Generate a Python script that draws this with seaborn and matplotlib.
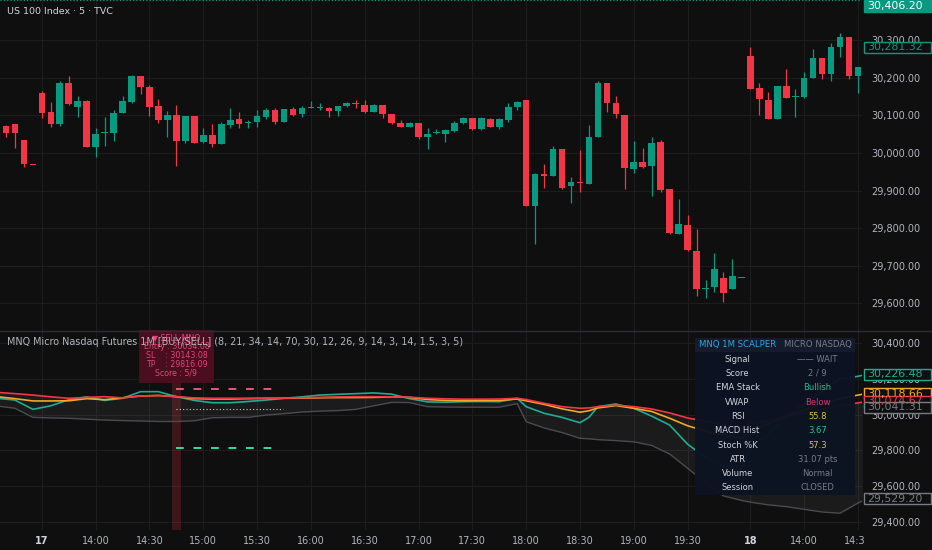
import numpy as np
import pandas as pd
import seaborn as sns
import matplotlib.pyplot as plt
from matplotlib.patches import Rectangle
from matplotlib.lines import Line2D
from matplotlib.ticker import FuncFormatter
from matplotlib.transforms import blended_transform_factory

# ---- 5 min candles, bar 4 = 17th 13:30 ----
bars = list(range(-1, 97))
opens = [30056.8, 30071.9, 30076.3, 30034.6, 29968.0, 30160.6, 30108.3, 30077.2, 30185.5, 30123.4,
         30138.4, 30016.9, 30052.4, 30052.4, 30107.4, 30136.7, 30205.9, 30176.6, 30126.0, 30087.9,
         30101.2, 30032.0, 30098.5, 30029.3, 30048.0, 30024.0, 30074.6, 30089.7, 30079.0, 30083.4,
         30096.8, 30114.5, 30083.4, 30117.2, 30103.0, 30118.9, 30119.8, 30120.7, 30112.7, 30125.2,
         30132.2, 30127.8, 30110.1, 30127.8, 30103.0, 30079.0, 30070.1, 30080.8, 30043.5, 30052.4,
         30050.6, 30059.5, 30079.0, 30092.3, 30063.9, 30090.5, 30070.1, 30087.8, 30121.5, 30141.1,
         29859.8, 29943.2, 29939.7, 30009.7, 29912.1, 29923.7, 29917.5, 30043.5, 30185.4, 30134.0,
         30101.1, 29957.4, 29975.1, 29966.3, 30028.4, 29903.3, 29784.4, 29808.3, 29739.1, 29638.0,
         29642.4, 29666.4, 29637.1, 29666.4, 30258.2, 30172.1, 30141.1, 30089.6, 30178.3, 30148.2,
         30149.9, 30200.5, 30252.0, 30209.4, 30281.3, 30307.9, 30205.8, 30228.0]
highs = [30074.6, 30074.6, 30076.3, 30034.6, 29968.5, 30165.1, 30136.7, 30192.6, 30205.0, 30151.8,
         30141.1, 30065.7, 30096.8, 30114.5, 30151.8, 30207.7, 30205.9, 30181.0, 30142.9, 30112.7,
         30127.8, 30099.4, 30098.5, 30065.7, 30076.3, 30083.4, 30118.9, 30110.1, 30087.9, 30114.5,
         30118.9, 30118.9, 30116.3, 30123.4, 30125.2, 30138.4, 30132.2, 30123.4, 30125.2, 30134.9,
         30141.1, 30141.1, 30130.5, 30127.8, 30103.0, 30087.9, 30083.4, 30080.8, 30065.7, 30063.0,
         30063.9, 30086.1, 30094.9, 30092.3, 30094.9, 30092.3, 30092.3, 30132.2, 30139.3, 30141.1,
         29947.6, 29970.7, 30018.6, 30009.7, 29937.0, 30008.0, 30074.5, 30192.5, 30187.2, 30151.7,
         30101.1, 30031.9, 30012.4, 30043.5, 30034.6, 29903.3, 29877.5, 29835.0, 29796.8, 29661.9,
         29732.9, 29682.3, 29717.8, 29668.1, 30283.0, 30187.2, 30163.2, 30179.2, 30222.7, 30169.5,
         30214.7, 30275.9, 30252.0, 30293.7, 30318.5, 30307.9, 30228.0, 30283.0]
lows = [30039.0, 30041.8, 30012.4, 29961.9, 29967.0, 30092.3, 30070.1, 30071.9, 30127.8, 30096.8,
        30015.1, 29990.3, 30018.7, 30032.0, 30105.6, 30132.2, 30157.1, 30098.5, 30079.0, 30043.5,
        29965.4, 30027.5, 30025.8, 30025.8, 30015.1, 30024.0, 30067.5, 30067.5, 30067.5, 30070.1,
        30089.7, 30077.2, 30083.4, 30099.4, 30096.8, 30118.9, 30114.5, 30096.8, 30099.4, 30123.4,
        30118.9, 30105.6, 30108.3, 30092.3, 30076.3, 30068.4, 30068.4, 30036.4, 30010.7, 30050.6,
        30028.4, 30056.8, 30077.2, 30061.2, 30061.2, 30070.1, 30063.9, 30083.4, 30114.5, 29859.8,
        29757.8, 29907.7, 29939.7, 29903.3, 29866.0, 29897.1, 29917.5, 30043.5, 30110.0, 30092.3,
        29903.3, 29947.6, 29961.0, 29886.4, 29897.1, 29784.4, 29784.4, 29740.0, 29620.2, 29614.9,
        29629.1, 29602.5, 29637.1, 29666.4, 30169.5, 30101.1, 30089.6, 30089.6, 30147.3, 30096.7,
        30145.5, 30198.7, 30197.0, 30192.5, 30256.4, 30196.1, 30158.8, 30225.0]
closes = [30070.1, 30052.4, 30054.2, 29970.8, 29967.2, 30107.4, 30077.2, 30187.2, 30129.6, 30139.3,
          30015.1, 30049.7, 30056.8, 30107.4, 30138.4, 30205.9, 30176.6, 30123.4, 30087.9, 30101.2,
          30032.0, 30099.4, 30027.5, 30048.0, 30024.0, 30076.3, 30087.9, 30076.3, 30083.4, 30098.5,
          30114.5, 30083.4, 30116.3, 30101.2, 30118.9, 30121.6, 30121.6, 30111.8, 30125.2, 30132.2,
          30129.6, 30110.1, 30127.8, 30103.0, 30079.0, 30068.4, 30079.0, 30043.5, 30050.6, 30054.2,
          30061.3, 30080.8, 30092.3, 30063.9, 30092.3, 30070.1, 30089.6, 30121.5, 30136.6, 29859.8,
          29943.2, 29939.7, 30010.6, 29907.7, 29923.7, 29919.2, 30043.5, 30185.4, 30134.0, 30103.8,
          29961.0, 29975.1, 29963.6, 30027.5, 29901.5, 29786.1, 29810.1, 29741.8, 29637.1, 29641.5,
          29691.2, 29626.4, 29673.5, 29668.1, 30169.5, 30142.8, 30089.6, 30179.2, 30147.3, 30151.7,
          30200.5, 30252.0, 30210.3, 30281.3, 30307.9, 30205.0, 30228.0, 30281.3]

time_tick_bars = [4, 10, 16, 22, 28, 34, 40, 46, 52, 58, 64, 70, 76, 83, 89, 95]
time_tick_labels = ['17', '14:00', '14:30', '15:00', '15:30', '16:00', '16:30', '17:00', '17:30',
                    '18:00', '18:30', '19:00', '19:30', '18', '14:00', '14:30']

# ---- indicator pane ----
ind_bars = [-1, 1, 3, 5, 7, 9, 11, 13, 15, 17, 19, 21, 23, 25, 27, 29, 31, 33, 35, 37, 39, 41, 43, 45,
            47, 49, 51, 53, 55, 57, 58, 60, 62, 64, 65, 66, 68, 70, 72, 74, 76, 78, 80, 82,
            83, 85, 87, 89, 91, 93, 95, 96]
ema_fast = [30092, 30082, 30030, 30050, 30084, 30100, 30080, 30092, 30129, 30129, 30101, 30080, 30067,
            30067, 30074, 30082, 30092, 30100, 30110, 30114, 30118, 30122, 30115, 30090, 30072, 30070,
            30073, 30074, 30073, 30092, 30045, 30008, 29985, 29955, 29985, 30045, 30060, 30036, 29992,
            29942, 29835, 29760, 29710, 29690, 29810, 29890, 29990, 30060, 30130, 30200, 30215, 30226.48]
ema_mid = [30101, 30090, 30077, 30077, 30078, 30090, 30084, 30095, 30105, 30108, 30101, 30090, 30088,
           30088, 30090, 30092, 30092, 30093, 30095, 30096, 30096, 30097, 30100, 30097, 30085, 30080,
           30078, 30079, 30080, 30088, 30078, 30058, 30033, 30014, 30022, 30038, 30051, 30036, 30018,
           29980, 29938, 29908, 29884, 29868, 29905, 29950, 29990, 30025, 30060, 30090, 30110, 30118.66]
ema_slow = [30125, 30118, 30110, 30100, 30092, 30097, 30101, 30094, 30105, 30107, 30101, 30094, 30092,
            30092, 30092, 30092, 30093, 30095, 30097, 30100, 30101, 30101, 30100, 30098, 30092, 30089,
            30087, 30087, 30088, 30092, 30085, 30064, 30045, 30036, 30038, 30045, 30054, 30045, 30032,
            30010, 29982, 29962, 29945, 29930, 29950, 29968, 29990, 30008, 30030, 30052, 30066, 30074.67]
band_low = [30049, 30036, 29985, 29982, 29980, 29975, 29970, 29967, 29965, 29962, 29962, 29966, 29983,
            29985, 29985, 29998, 30006, 30015, 30020, 30023, 30030, 30050, 30069, 30068, 30045, 30043,
            30042, 30042, 30042, 30062, 29961, 29926, 29900, 29868, 29865, 29860, 29855, 29848, 29828,
            29780, 29700, 29620, 29545, 29520, 29510, 29495, 29485, 29470, 29455, 29448, 29505, 29529.2]
vwap_last = 30041.31
last_price = 30406.20
close_price = 30281.32

signal_bar = 19
entry_price = 30034.08
stop_price = 30143.08
target_price = 29816.09
signal_score = '5/9'

table_labels = ['Signal', 'Score', 'EMA Stack', 'VWAP', 'RSI', 'MACD Hist', 'Stoch %K', 'ATR', 'Volume', 'Session']
table_values = ['—— WAIT', '2 / 9', 'Bullish', 'Below', '55.8', '3.67', '57.3', '31.07 pts', 'Normal', 'CLOSED']

indicator_title = ('MNQ Micro Nasdaq Futures 1M [BUY/SELL] '
                   '(8, 21, 34, 14, 70, 30, 12, 26, 9, 14, 3, 14, 1.5, 3, 5)')

BG = '#0f0f0f'
GRID = '#1d1d20'
TEXT = '#b2b5be'
UP = '#089981'
DOWN = '#f23645'
TEAL = '#22ab94'
ORANGE = '#f5a623'
RED = '#f23645'
GRAY = '#787b86'

sns.set_theme(style='dark', rc={'axes.facecolor': BG, 'figure.facecolor': BG,
                                'axes.edgecolor': BG, 'grid.color': GRID})
plt.rcParams['font.family'] = ['DejaVu Sans']

W, H = 932, 550
fig = plt.figure(figsize=(W / 100, H / 100), dpi=100)


def fx(x):
    return x / W


def fy(y):
    return 1 - y / H


ax1 = fig.add_axes([0, fy(330), 862 / W, 330 / H])
ax2 = fig.add_axes([0, fy(530), 862 / W, 200 / H], sharex=ax1)

# candles
df = pd.DataFrame({'bar': bars, 'open': opens, 'high': highs, 'low': lows, 'close': closes})
cols = np.where(df['close'] >= df['open'], UP, DOWN)
ax1.vlines(df['bar'], df['low'], df['high'], colors=cols, lw=0.9, zorder=2)
body_lo = np.minimum(df['open'], df['close'])
body_h = np.maximum((df['close'] - df['open']).abs(), 3.0)
ax1.bar(df['bar'], body_h, bottom=body_lo, width=0.74, color=cols, lw=0, zorder=3)
ax1.axhline(last_price, color=UP, ls=':', lw=0.9, zorder=4)

# indicator lines
ind = pd.DataFrame({'bar': ind_bars, 'EMA 8': ema_fast, 'EMA 21': ema_mid, 'EMA 34': ema_slow})
long = ind.melt('bar', var_name='series', value_name='price')
ax2.fill_between(ind_bars, band_low, ema_slow, color='white', alpha=0.05, lw=0, zorder=1)
sns.lineplot(x=ind_bars, y=band_low, color='#4a4a50', lw=1.0, ax=ax2, zorder=2)
sns.lineplot(data=long, x='bar', y='price', hue='series',
             hue_order=['EMA 8', 'EMA 21', 'EMA 34'],
             palette={'EMA 8': TEAL, 'EMA 21': ORANGE, 'EMA 34': RED},
             legend=False, lw=1.2, ax=ax2, zorder=3)

# sell signal
ax2.axvspan(signal_bar - 0.5, signal_bar + 0.5, color=DOWN, alpha=0.2, lw=0, zorder=1)
ax2.hlines(stop_price, signal_bar, signal_bar + 11.6, color='#e8557f', ls=(0, (4, 5)), lw=1.4, zorder=4)
ax2.hlines(target_price, signal_bar, signal_bar + 11.6, color='#2de0a0', ls=(0, (4, 5)), lw=1.4, zorder=4)
ax2.hlines(entry_price, signal_bar, signal_bar + 11.9, color='#cfcfcf', ls=(0, (1, 2)), lw=0.8, zorder=4)
sig_text = ('▼ SELL MNQ\n'
            f'Entry : {entry_price:.2f}\n'
            f'SL    : {stop_price:.2f}\n'
            f'TP    : {target_price:.2f}\n'
            f'Score : {signal_score}')
ax2.text(signal_bar, 30207, sig_text, ha='center', va='bottom', multialignment='center',
         fontsize=5.7, color='#e0457b', linespacing=0.97, clip_on=True, zorder=6,
         bbox=dict(boxstyle='square,pad=0.6', fc='#4a0e1e', ec='none'))

# axes styling
fmt = FuncFormatter(lambda v, p: f'{v:,.2f}')
for ax, ticks in ((ax1, np.arange(29600, 30301, 100)), (ax2, np.arange(29400, 30401, 200))):
    for s in ax.spines.values():
        s.set_visible(False)
    ax.set_xlabel('')
    ax.set_ylabel('')
    ax.yaxis.tick_right()
    ax.set_yticks(ticks)
    ax.yaxis.set_major_formatter(fmt)
    ax.tick_params(axis='y', length=0, pad=7, labelsize=7, labelcolor=TEXT)
    ax.grid(True, color=GRID, lw=0.8)
    ax.set_axisbelow(True)

ax2.set_xticks(time_tick_bars)
ax2.set_xticklabels(time_tick_labels)
ax1.tick_params(axis='x', labelbottom=False, length=0)
ax2.tick_params(axis='x', length=0, pad=4, labelsize=7, labelcolor=TEXT)
for lab in ax2.get_xticklabels():
    if len(lab.get_text()) == 2:
        lab.set_fontweight('bold')
        lab.set_color('#d1d4dc')

ax1.set_xlim(-0.67, 95.45)
ax1.set_ylim(29528.8, 30407.3)
ax2.set_ylim(29354.1, 30474.5)


def price_tag(ax, value, color, filled=False, top=False):
    trans = blended_transform_factory(ax.transAxes, ax.transData)
    y0, y1 = ax.get_ylim()
    h = 11.5 * (y1 - y0) / (ax.get_position().height * H)
    base = value - h if top else value - h / 2
    ax.add_patch(Rectangle((1 + 2 / 862, base), 67 / 862, h, transform=trans,
                           fc=color if filled else BG, ec=color, lw=1.0, clip_on=False, zorder=10))
    ax.text(1 + 5 / 862, base + h / 2, f'{value:,.2f}', transform=trans, ha='left', va='center',
            fontsize=7.9, color='white' if filled else color, clip_on=False, zorder=11)


price_tag(ax1, last_price, UP, filled=True, top=True)
price_tag(ax1, close_price, UP)
price_tag(ax2, ema_fast[-1], TEAL)
price_tag(ax2, ema_mid[-1], ORANGE)
price_tag(ax2, ema_slow[-1], RED)
price_tag(ax2, vwap_last, GRAY)
price_tag(ax2, band_low[-1], GRAY)

# pane divider, cut-off label cover
fig.add_artist(Line2D([0, 1], [fy(330.5), fy(330.5)], color='#2a2e39', lw=1.0))
fig.patches.append(Rectangle((fx(864), 0), 1 - fx(864), 20 / H, transform=fig.transFigure,
                             fc=BG, ec='none', zorder=1))

# titles
fig.text(fx(7), fy(12), 'US 100 Index · 5 · TVC', ha='left', va='center', fontsize=6.8, color='#d1d4dc')
fig.text(fx(7), fy(342), indicator_title, ha='left', va='center', fontsize=6.9, color=TEXT)

# dashboard table
tx0, tx1 = 695, 855
fig.patches.append(Rectangle((fx(tx0), fy(495)), fx(tx1 - tx0), 157 / H, transform=fig.transFigure,
                             fc='#0c1322', ec='none', alpha=0.97, zorder=2))
fig.patches.append(Rectangle((fx(tx0), fy(351.5)), fx(tx1 - tx0), 13.5 / H, transform=fig.transFigure,
                             fc='#131b2d', ec='none', zorder=2))
fig.text(fx(737.5), fy(344.7), 'MNQ 1M SCALPER', ha='center', va='center', fontsize=6.1, color='#29a9e0', zorder=5)
fig.text(fx(817.5), fy(344.7), 'MICRO NASDAQ', ha='center', va='center', fontsize=6.1, color=GRAY, zorder=5)
value_colors = {'EMA Stack': '#1fc08a', 'VWAP': '#d8356e', 'RSI': '#d9c24f',
                'MACD Hist': '#2bc0a0', 'Stoch %K': '#d9c24f'}
for k, (lab, val) in enumerate(zip(table_labels, table_values)):
    yc = 359.2 + 14.3 * k
    fig.text(fx(737.5), fy(yc), lab, ha='center', va='center', fontsize=6, color='#d1d4dc', zorder=5)
    fig.text(fx(817.5), fy(yc), val, ha='center', va='center', fontsize=6,
             color=value_colors.get(lab, GRAY), zorder=5)

fig.savefig('out.png', dpi=100, facecolor=BG)
